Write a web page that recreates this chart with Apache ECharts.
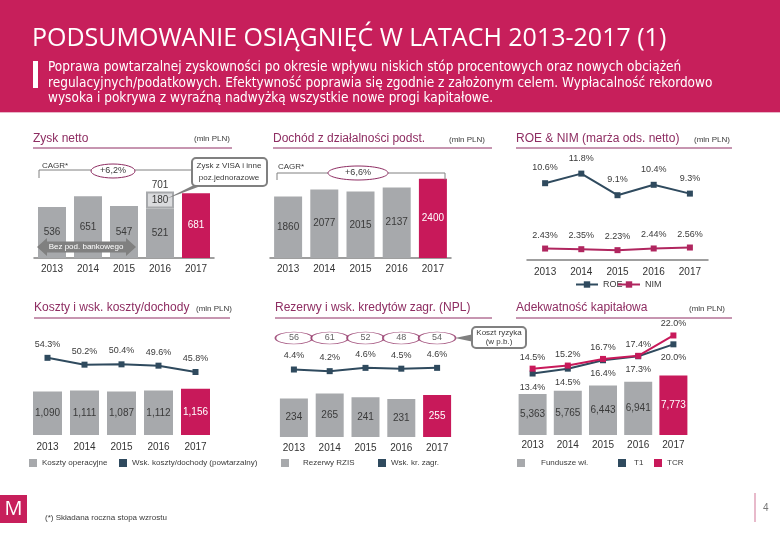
<!DOCTYPE html>
<html><head><meta charset="utf-8">
<script src="https://cdn.jsdelivr.net/npm/echarts@6/dist/echarts.min.js"></script>
<style>html,body{margin:0;padding:0;background:#fff}#c{width:780px;height:540px}</style>
</head><body><div id="c"></div>
<script>
// ---------- data ----------
const years = ['2013', '2014', '2015', '2016', '2017'];
const netProfit = [536, 651, 547, 521, 681];
const oneOffs = [null, null, null, 180, null];
const coreIncome = [1860, 2077, 2015, 2137, 2400];
const roe = [10.6, 11.8, 9.1, 10.4, 9.3];
const nim = [2.43, 2.35, 2.23, 2.44, 2.56];
const opCosts = [1090, 1111, 1087, 1112, 1156];
const costIncome = [54.3, 50.2, 50.4, 49.6, 45.8];
const provisions = [234, 265, 241, 231, 255];
const nplRatio = [4.4, 4.2, 4.6, 4.5, 4.6];
const costOfRisk = [56, 61, 52, 48, 54];
const ownFunds = [5363, 5765, 6443, 6941, 7773];
const tier1 = [13.4, 14.5, 16.4, 17.3, 20.0];
const tcr = [14.5, 15.2, 16.7, 17.4, 22.0];
const cagrNet = '+6,2%';
const cagrCore = '+6,6%';

// ---------- styles ----------
const BAND = '#C71F5B', MAG = '#C8195A', GRAY = '#A7A9AC', LIGHT = '#DADBDD',
      DARK = '#2F4A5E', TITLE = '#8E2D62', TXT = '#3A3A3A', AXIS = '#808080',
      FONT = '"Liberation Sans", Arial, sans-serif';
const SUBFONT = '13.5px "Liberation Sans Narrow", "DejaVu Sans Condensed", sans-serif';

function lastMag(vals) {
  return vals.map((v, i) => i === vals.length - 1
    ? { value: v, itemStyle: { color: MAG }, label: { color: '#fff' } } : v);
}
const comma = v => Number(v).toLocaleString('en-US');
function pct(d) { return p => Number(p.value).toFixed(d) + '%'; }

function t(x, y, text, style) {
  return { type: 'text', x, y, z: 100, silent: true,
    style: Object.assign({ text, fill: TXT, font: '8px ' + FONT, align: 'left', verticalAlign: 'middle' }, style || {}) };
}
function line(points, stroke, w) {
  return { type: 'polyline', z: 90, silent: true, shape: { points }, style: { stroke: stroke, lineWidth: w || 1, fill: null } };
}

const graphics = [
  { type: 'rect', shape: { x: 0, y: 0, width: 780, height: 112 }, style: { fill: BAND }, z: 1 },
  { type: 'rect', shape: { x: 0, y: 112, width: 780, height: 1 }, style: { fill: '#E8B6C8' }, z: 1 },
  t(32, 39, 'PODSUMOWANIE OSIĄGNIĘĆ W LATACH 2013-2017 (1)', { fill: '#fff', font: '25px "Open Sans", sans-serif' }),
  { type: 'rect', shape: { x: 33, y: 61, width: 5, height: 27 }, style: { fill: '#fff' }, z: 5 },
  t(48, 67, 'Poprawa powtarzalnej zyskowności po okresie wpływu niskich stóp procentowych oraz nowych obciążeń', { fill: '#fff', font: SUBFONT }),
  t(48, 83, 'regulacyjnych/podatkowych. Efektywność poprawia się zgodnie z założonym celem. Wypłacalność rekordowo', { fill: '#fff', font: SUBFONT }),
  t(48, 98, 'wysoka i pokrywa z wyraźną nadwyżką wszystkie nowe progi kapitałowe.', { fill: '#fff', font: SUBFONT }),

  // panel headers
  t(33, 139, 'Zysk netto', { fill: TITLE, font: '12px ' + FONT }),
  t(230, 139, '(mln PLN)', { align: 'right' }),
  line([[33, 148], [232, 148]], TITLE, 1),
  t(273, 139, 'Dochód z działalności podst.', { fill: TITLE, font: '12px ' + FONT }),
  t(485, 140, '(mln PLN)', { align: 'right' }),
  line([[273, 148], [492, 148]], TITLE, 1),
  t(516, 139, 'ROE & NIM (marża ods. netto)', { fill: TITLE, font: '12px ' + FONT }),
  t(730, 140, '(mln PLN)', { align: 'right' }),
  line([[516, 148], [732, 148]], TITLE, 1),
  t(34, 308, 'Koszty i wsk. koszty/dochody', { fill: TITLE, font: '12px ' + FONT }),
  t(232, 309, '(mln PLN)', { align: 'right' }),
  line([[34, 318], [230, 318]], TITLE, 1),
  t(275, 308, 'Rezerwy i wsk. kredytów zagr. (NPL)', { fill: TITLE, font: '12px ' + FONT }),
  line([[275, 318], [492, 318]], TITLE, 1),
  t(516, 308, 'Adekwatność kapitałowa', { fill: TITLE, font: '12px ' + FONT }),
  t(725, 309, '(mln PLN)', { align: 'right' }),
  line([[516, 318], [732, 318]], TITLE, 1),

  // CAGR panel 1
  t(42, 166, 'CAGR*'),
  line([[39, 178], [39, 170], [197, 170], [197, 178]], AXIS, 1),
  { type: 'ellipse', z: 95, shape: { cx: 113, cy: 171, rx: 22, ry: 7 }, style: { fill: '#fff', stroke: TITLE, lineWidth: 1 } },
  t(113, 171, cagrNet, { align: 'center', font: '9px ' + FONT }),
  // CAGR panel 2
  t(278, 167, 'CAGR*'),
  line([[277, 180], [277, 173], [445, 173], [445, 180]], AXIS, 1),
  { type: 'ellipse', z: 95, shape: { cx: 358, cy: 173, rx: 30, ry: 7 }, style: { fill: '#fff', stroke: TITLE, lineWidth: 1 } },
  t(358, 173, cagrCore, { align: 'center', font: '9px ' + FONT }),

  // callout VISA
  { type: 'polygon', z: 96, shape: { points: [[196, 184], [206, 184], [166, 199]] }, style: { fill: AXIS } },
  { type: 'rect', z: 97, shape: { x: 192, y: 158, width: 75, height: 28, r: 4 }, style: { fill: '#fff', stroke: AXIS, lineWidth: 2 } },
  t(229, 166, 'Zysk z VISA i inne', { align: 'center' }),
  t(229, 178, 'poz.jednorazowe', { align: 'center' }),

  // arrow "Bez pod. bankowego"
  { type: 'polygon', z: 96, shape: { points: [[37, 247], [47, 238], [47, 241.5], [126, 241.5], [126, 238], [136, 247], [126, 256], [126, 252.5], [47, 252.5], [47, 256]] }, style: { fill: AXIS } },
  t(86, 247, 'Bez pod. bankowego', { align: 'center', fill: '#fff' }),

  // callout Koszt ryzyka
  { type: 'polygon', z: 96, shape: { points: [[474, 334], [474, 342], [455, 338]] }, style: { fill: AXIS } },
  { type: 'rect', z: 97, shape: { x: 472, y: 327, width: 54, height: 21, r: 4 }, style: { fill: '#fff', stroke: AXIS, lineWidth: 2 } },
  t(499, 333, 'Koszt ryzyka', { align: 'center' }),
  t(499, 342, '(w p.b.)', { align: 'center' }),

  // footer
  { type: 'rect', z: 5, shape: { x: 0, y: 495, width: 27, height: 28 }, style: { fill: BAND } },
  t(13.5, 509, 'M', { align: 'center', fill: '#fff', font: '20px "Open Sans", sans-serif' }),
  t(45, 518, '(*) Składana roczna stopa wzrostu', { font: '8px ' + FONT }),
  line([[755, 493], [755, 522]], '#E0A3BA', 1.5),
  t(763, 508, '4', { fill: '#777', font: '10px ' + FONT })
];

const grids = [
  { left: 34, top: 163, width: 180, height: 95 },
  { left: 270, top: 159, width: 181, height: 99 },
  { left: 527, top: 156, width: 181, height: 104 },
  { left: 29, top: 335, width: 185, height: 100 },
  { left: 276, top: 330, width: 179, height: 107 },
  { left: 515, top: 320, width: 176, height: 115 },
  { left: 276, top: 332, width: 179, height: 12 }
];
const margins = [6, 6, 7, 7, 6, 5];
const xAxes = grids.map((g, i) => ({
  type: 'category', gridIndex: i, data: years, show: i < 6,
  axisLine: { show: i < 3, lineStyle: { color: AXIS, width: 1.5 } },
  axisTick: { show: false },
  axisLabel: { margin: margins[i] || 0, fontSize: 10, color: '#333', fontFamily: FONT }
}));
const yRanges = [[0, 1000, 0], [0, 3000, 1], [1, 14, 2], [0, 2500, 3], [8, 68, 3], [0, 650, 4], [-3.8, 9.2, 4], [0, 15000, 5], [-0.5, 25.5, 5], [0, 1, 6]];
const yAxes = yRanges.map(r => ({ type: 'value', gridIndex: r[2], min: r[0], max: r[1], show: false }));

const lblBase = { show: true, fontSize: 10, color: TXT, fontFamily: FONT };
const pctLbl = (pos, d, dist) => ({ show: true, position: pos, distance: dist, fontSize: 9, color: TXT, fontFamily: FONT, formatter: pct(d) });
const ellipsePath = 'path://M0,50 A50,50 0 1,1 100,50 A50,50 0 1,1 0,50 Z';

const series = [
  // panel 1
  { name: 'Zysk netto', type: 'bar', xAxisIndex: 0, yAxisIndex: 0, stack: 'np', barWidth: 28,
    itemStyle: { color: GRAY }, label: Object.assign({ position: 'inside' }, lblBase), data: lastMag(netProfit) },
  { name: 'Jednorazowe', type: 'bar', xAxisIndex: 0, yAxisIndex: 0, stack: 'np', barWidth: 28,
    itemStyle: { color: LIGHT, borderColor: GRAY, borderWidth: 2 }, label: Object.assign({ position: 'inside' }, lblBase), data: oneOffs },
  { name: 'Suma', type: 'bar', xAxisIndex: 0, yAxisIndex: 0, stack: 'np', barWidth: 28,
    itemStyle: { color: 'transparent' },
    label: Object.assign({ position: 'top', distance: 1, formatter: p => netProfit[p.dataIndex] + oneOffs[p.dataIndex] }, lblBase),
    data: oneOffs.map(v => v == null ? null : 0) },
  // panel 2
  { name: 'Dochód', type: 'bar', xAxisIndex: 1, yAxisIndex: 1, barWidth: 28,
    itemStyle: { color: GRAY }, label: Object.assign({ position: 'inside' }, lblBase), data: lastMag(coreIncome) },
  // panel 3
  { name: 'ROE', type: 'line', xAxisIndex: 2, yAxisIndex: 2, symbol: 'rect', symbolSize: 6,
    itemStyle: { color: DARK }, lineStyle: { color: DARK, width: 2 }, label: pctLbl('top', 1, 8), data: roe },
  { name: 'NIM', type: 'line', xAxisIndex: 2, yAxisIndex: 2, symbol: 'rect', symbolSize: 6,
    itemStyle: { color: '#B0265F' }, lineStyle: { color: '#B0265F', width: 2 }, label: pctLbl('top', 2, 6), data: nim },
  // panel 4
  { name: 'Koszty operacyjne', type: 'bar', xAxisIndex: 3, yAxisIndex: 3, barWidth: 29,
    itemStyle: { color: GRAY }, label: Object.assign({ position: 'inside', formatter: p => comma(p.value) }, lblBase), data: lastMag(opCosts) },
  { name: 'Wsk. koszty/dochody (powtarzalny)', type: 'line', xAxisIndex: 3, yAxisIndex: 4, symbol: 'rect', symbolSize: 6,
    itemStyle: { color: DARK }, lineStyle: { color: DARK, width: 2 }, label: pctLbl('top', 1, 6), data: costIncome },
  // panel 5
  { name: 'Rezerwy RZIS', type: 'bar', xAxisIndex: 4, yAxisIndex: 5, barWidth: 28,
    itemStyle: { color: GRAY }, label: Object.assign({ position: 'inside' }, lblBase), data: lastMag(provisions) },
  { name: 'Wsk. kr. zagr.', type: 'line', xAxisIndex: 4, yAxisIndex: 6, symbol: 'rect', symbolSize: 6,
    itemStyle: { color: DARK }, lineStyle: { color: DARK, width: 2 }, label: pctLbl('top', 1, 6), data: nplRatio },
  { name: 'Koszt ryzyka', type: 'scatter', xAxisIndex: 6, yAxisIndex: 9, symbol: ellipsePath, symbolSize: [37, 12],
    itemStyle: { color: '#fff', borderColor: TITLE, borderWidth: 1 },
    label: { show: true, position: 'inside', fontSize: 9, color: TXT, fontFamily: FONT, formatter: p => p.value[2] },
    data: costOfRisk.map((v, i) => [i, 0.5, v]) },
  // panel 6
  { name: 'Fundusze wł.', type: 'bar', xAxisIndex: 5, yAxisIndex: 7, barWidth: 28,
    itemStyle: { color: GRAY }, label: Object.assign({ position: 'inside', formatter: p => comma(p.value) }, lblBase), data: lastMag(ownFunds) },
  { name: 'T1', type: 'line', xAxisIndex: 5, yAxisIndex: 8, symbol: 'rect', symbolSize: 6,
    itemStyle: { color: DARK }, lineStyle: { color: DARK, width: 2 }, label: pctLbl('bottom', 1, 6), data: tier1 },
  { name: 'TCR', type: 'line', xAxisIndex: 5, yAxisIndex: 8, symbol: 'rect', symbolSize: 6,
    itemStyle: { color: MAG }, lineStyle: { color: MAG, width: 2 }, label: pctLbl('top', 1, 4), data: tcr }
];

const LT = { fontSize: 8, color: TXT, fontFamily: FONT };
const lg = (name, left, top, opts) => Object.assign({
  data: [name], left, top, selectedMode: false, padding: 0, itemGap: 0,
  itemWidth: 8, itemHeight: 8, icon: 'rect',
  textStyle: LT
}, opts || {});
const legends = [
  lg('ROE', 575, 280, { icon: null, itemWidth: 22, itemHeight: 8, textStyle: { fontSize: 9, color: TXT, fontFamily: FONT } }),
  lg('NIM', 617, 280, { icon: null, itemWidth: 22, itemHeight: 8, textStyle: { fontSize: 9, color: TXT, fontFamily: FONT } }),
  lg('Koszty operacyjne', 29, 459),
  lg('Wsk. koszty/dochody (powtarzalny)', 119, 459),
  lg('Rezerwy RZIS', 281, 459, { textStyle: Object.assign({ padding: [0, 0, 0, 9] }, LT) }),
  lg('Wsk. kr. zagr.', 378, 459),
  lg('Fundusze wł.', 517, 459, { textStyle: Object.assign({ padding: [0, 0, 0, 11] }, LT) }),
  lg('T1', 618, 459, { textStyle: Object.assign({ padding: [0, 0, 0, 3] }, LT) }),
  lg('TCR', 654, 459)
];
legends.forEach(l => { if (l.icon === null) delete l.icon; });

const chart = echarts.init(document.getElementById('c'), null, { renderer: 'canvas' });
chart.setOption({
  animation: false,
  backgroundColor: '#fff',
  grid: grids,
  xAxis: xAxes,
  yAxis: yAxes,
  legend: legends,
  series: series,
  graphic: graphics
});
</script></body></html>
